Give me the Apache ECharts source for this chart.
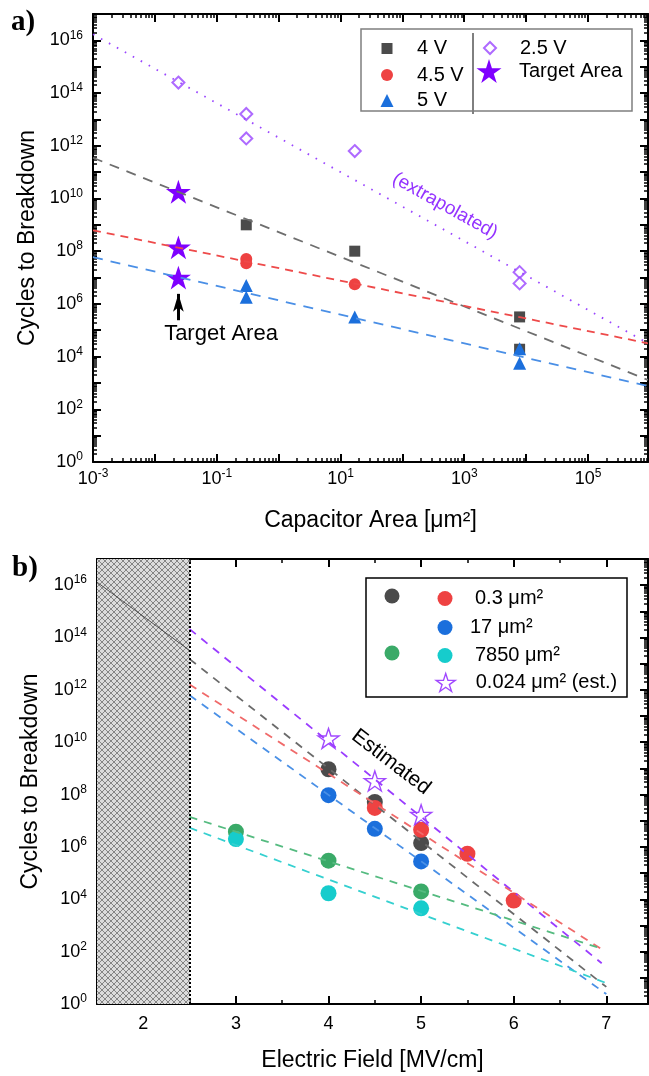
<!DOCTYPE html>
<html><head><meta charset="utf-8">
<script src="https://cdn.jsdelivr.net/npm/echarts@6/dist/echarts.min.js"></script>
<style>html,body{margin:0;padding:0;background:#fff}#c{width:649px;height:1076px}</style>
</head><body><div id="c"></div>
<script>
// ================= DATA : panel a (Cycles vs capacitor area) =================
const area4V = [0.3, 17, 7850, 7850];
const cyc4V = [1.0e9, 1.0e8, 3.2e5, 1.9e4];
const area45V = [0.3, 0.3, 17];
const cyc45V = [5.0e7, 3.5e7, 5.5e6];
const area5V = [0.3, 0.3, 17, 7850, 7850];
const cyc5V = [5.0e6, 1.8e6, 3.2e5, 2.0e4, 5.6e3];
const area25V = [0.024, 0.3, 0.3, 17, 7850, 7850];
const cyc25V = [2.5e14, 1.6e13, 1.9e12, 6.3e11, 1.6e7, 6.0e6];
const areaTarget = [0.024, 0.024, 0.024];
const cycTarget = [1.8e10, 1.4e8, 1.0e7];
// fit lines (end points)
const fitAreaA = [1e-3, 9.3e5];
const fit4V = [3.5e11, 1.3e3];
const fit45V = [6.2e8, 3.2e4];
const fit5V = [5.9e7, 7.6e2];
const fit25V = [1.7e16, 3.2e4];
// target-area arrow (x, y from -> to)
const arrowArea = 0.024;
const arrowCyc = [2.4e5, 2.4e6];
const xTicksA = [-3, -1, 1, 3, 5];           // labelled exponents
const yTicks = [0, 2, 4, 6, 8, 10, 12, 14, 16]; // labelled exponents

// ================= DATA : panel b (Cycles vs electric field) =================
const fieldGray = [4, 4.5, 5];
const cycGray = [9.3e8, 5.2e7, 1.4e6];
const fieldRed = [4.5, 5, 5.5, 6];
const cycRed = [3.1e7, 4.5e6, 5.5e5, 8.9e3];
const fieldBlue = [4, 4.5, 5];
const cycBlue = [9.5e7, 4.9e6, 2.8e5];
const fieldGreen = [3, 4, 5];
const cycGreen = [3.8e6, 3.0e5, 2.0e4];
const fieldCyan = [3, 4, 5];
const cycCyan = [2.0e6, 1.7e4, 4.5e3];
const fieldStar = [4, 4.5, 5];
const cycStar = [1.4e10, 3.3e8, 1.7e7];
// fit lines (x0,x1) and (y0,y1)
const fitFieldPurple = [2.5, 6.95], fitPurple = [2.1e14, 36];
const fitFieldGray = [2.5, 7.0], fitGray = [1.5e13, 4.5];
const fitFieldRed = [2.5, 6.95], fitRed = [1.6e12, 123];
const fitFieldBlue = [2.5, 7.0], fitBlue = [6.2e11, 2.4];
const fitFieldGreen = [2.5, 6.9], fitGreen = [1.4e7, 148];
const fitFieldCyan = [2.5, 7.0], fitCyan = [5.4e6, 6.3];
const hatchField = [1.5, 2.5], hatchLine = [1.3e16, 3.2e13];
const shadeField = [1.5, 2.5];
const xTicksB = [2, 3, 4, 5, 6, 7];

// ================= helpers =================
const L = Math.log10;
const FONT = 'Liberation Sans';
const pts = (xs, ys, lx) => xs.map((x, i) => [lx ? L(x) : x, L(ys[i])]);
function minors(d0, d1, lo, hi) {
  const o = [];
  for (let d = d0; d <= d1; d++) for (let k = 2; k <= 9; k++) {
    const v = d + L(k); if (v > lo && v < hi) o.push(+v.toFixed(5));
  }
  return o;
}
function seq(a, b, s) { const o = []; for (let v = a; v <= b + 1e-9; v += s) o.push(+v.toFixed(5)); return o; }
const supFmt = v => '{b|10}{s|' + Math.round(v) + '}';
const supRich = {
  b: { fontSize: 18, fontFamily: FONT, color: '#000', lineHeight: 22 },
  s: { fontSize: 12, fontFamily: FONT, color: '#000', verticalAlign: 'top', lineHeight: 13 }
};
const AX = { color: '#000', width: 2 };

function axisSet(kind, grid, min, max, major, minor, labelVals, fmt, name, nameGap, labelMargin) {
  const posA = kind === 'x' ? 'bottom' : 'left';
  const posB = kind === 'x' ? 'top' : 'right';
  const base = { type: 'value', gridIndex: grid, min, max, splitLine: { show: false }, silent: true };
  const out = [];
  out.push(Object.assign({}, base, {
    position: posA,
    axisLine: { show: true, onZero: false, lineStyle: AX },
    axisTick: { show: true, inside: true, length: 8, lineStyle: { color: '#000', width: 2 }, customValues: major },
    axisLabel: { show: true, customValues: labelVals, formatter: fmt, rich: supRich, margin: labelMargin,
      fontSize: 18, fontFamily: FONT, color: '#000', lineHeight: 22 },
    name, nameLocation: 'middle', nameGap,
    nameTextStyle: { fontSize: 23, fontFamily: FONT, color: '#000' }
  }));
  out.push(Object.assign({}, base, {
    position: posA,
    axisLine: { show: false, onZero: false },
    axisTick: { show: true, inside: true, length: 4, lineStyle: { color: '#000', width: 1.5 }, customValues: minor },
    axisLabel: { show: false }
  }));
  out.push(Object.assign({}, base, {
    position: posB,
    axisLine: { show: true, onZero: false, lineStyle: AX },
    axisTick: { show: true, inside: true, length: 8, lineStyle: { color: '#000', width: 2 }, customValues: major },
    axisLabel: { show: false }
  }));
  out.push(Object.assign({}, base, {
    position: posB,
    axisLine: { show: false, onZero: false },
    axisTick: { show: true, inside: true, length: 4, lineStyle: { color: '#000', width: 1.5 }, customValues: minor },
    axisLabel: { show: false }
  }));
  return out;
}

const xMaxA = 5.97, xMinA = -3;
const xAxes = [].concat(
  axisSet('x', 0, xMinA, xMaxA, seq(-3, 5, 1), minors(-3, 5, xMinA, xMaxA), xTicksA, supFmt, 'Capacitor Area [\u03BCm\u00B2]', 47, 6),
  axisSet('x', 1, 1.5, 7.45, seq(2, 7, 1), seq(2.5, 7, 0.5).filter(v => v % 1 !== 0), xTicksB, v => String(Math.round(v)), 'Electric Field [MV/cm]', 45, 9)
);
const yAxes = [].concat(
  axisSet('y', 0, 0, 17, seq(0, 17, 1), minors(0, 16, 0, 17), yTicks, supFmt, 'Cycles to Breakdown', 48, 10),
  axisSet('y', 1, 0, 17, seq(0, 17, 1), minors(0, 16, 0, 17), yTicks, supFmt, 'Cycles to Breakdown', 55, 10)
);

// star path
const STAR = 'path://M0,-1L0.2245,-0.309L0.951,-0.309L0.363,0.118L0.588,0.809L0,0.382L-0.588,0.809L-0.363,0.118L-0.951,-0.309L-0.2245,-0.309Z';

// hatch pattern (cross-hatch tile)
const pc = document.createElement('canvas'); pc.width = 6; pc.height = 6;
const pctx = pc.getContext('2d');
pctx.fillStyle = '#dcdcdc'; pctx.fillRect(0, 0, 6, 6);
pctx.fillStyle = '#858585';
for (let i = 0; i < 6; i++) { pctx.fillRect(i, i, 1, 1); pctx.fillRect(5 - i, i, 1, 1); }

const C = {
  gray: '#4b4b4b', red: '#ee4242', blue: '#1b6fdc', purple: '#9a45ff', star: '#7f00ff',
  green: '#3aaa68', cyan: '#16cccc'
};

function sc(name, data, gi, symbol, size, color, extra) {
  return Object.assign({ type: 'scatter', name, data, xAxisIndex: gi * 4, yAxisIndex: gi * 4,
    symbol, symbolSize: size, itemStyle: { color, opacity: 1 }, z: 3, silent: true }, extra || {});
}
function ln(name, xs, ys, gi, lx, color, type, width) {
  return { type: 'line', name, data: pts(xs, ys, lx), xAxisIndex: gi * 4, yAxisIndex: gi * 4,
    symbol: 'none', showSymbol: false, silent: true, z: 4,
    lineStyle: { color, type, width: width || 1.6 } };
}

const series = [
  // panel a
  sc('4 V', pts(area4V, cyc4V, true), 0, 'rect', 11, C.gray),
  sc('4.5 V', pts(area45V, cyc45V, true), 0, 'circle', 12, C.red),
  sc('5 V', pts(area5V, cyc5V, true), 0, 'triangle', 13, C.blue),
  sc('2.5 V', pts(area25V, cyc25V, true), 0, 'emptyDiamond', 12, C.purple, { itemStyle: { color: C.purple, borderWidth: 1.2 } }),
  sc('Target Area', pts(areaTarget, cycTarget, true), 0, STAR, 25, C.star, {
    symbolKeepAspect: true,
    markLine: { silent: true, symbol: ['none', 'arrow'], symbolSize: [8, 18], label: { show: false },
      lineStyle: { color: '#000', width: 3, type: 'solid' },
      data: [[{ coord: [L(arrowArea), L(arrowCyc[0])] }, { coord: [L(arrowArea), L(arrowCyc[1])] }]] }
  }),
  ln('fit 4 V', fitAreaA, fit4V, 0, true, '#6e6e6e', [10, 8], 1.8),
  ln('fit 4.5 V', fitAreaA, fit45V, 0, true, '#ee4a4a', [8, 6], 1.8),
  ln('fit 5 V', fitAreaA, fit5V, 0, true, '#4a8fe6', [10, 8], 1.8),
  ln('fit 2.5 V', fitAreaA, fit25V, 0, true, '#9a45ff', [1.6, 7.5], 1.8),
  // panel b
  ln('hatch', hatchField, hatchLine, 1, false, '#333', 'solid', 0.8),
  sc('0.3 \u03BCm\u00B2 A', pts(fieldGray, cycGray, false), 1, 'circle', 16, C.gray),
  sc('0.3 \u03BCm\u00B2', pts(fieldRed, cycRed, false), 1, 'circle', 16, C.red),
  sc('17 \u03BCm\u00B2', pts(fieldBlue, cycBlue, false), 1, 'circle', 16, C.blue),
  sc('7850 \u03BCm\u00B2 A', pts(fieldGreen, cycGreen, false), 1, 'circle', 16, C.green),
  sc('7850 \u03BCm\u00B2', pts(fieldCyan, cycCyan, false), 1, 'circle', 16, C.cyan),
  sc('0.024 \u03BCm\u00B2 (est.)', pts(fieldStar, cycStar, false), 1, STAR, 21, '#ffffff', {
    symbolKeepAspect: true, itemStyle: { color: '#ffffff', borderColor: '#8a1cff', borderWidth: 1.4 } }),
  ln('fit purple', fitFieldPurple, fitPurple, 1, false, '#9a3cff', [8, 7], 1.8),
  ln('fit gray', fitFieldGray, fitGray, 1, false, '#6a6a6a', [8, 7], 1.8),
  ln('fit red', fitFieldRed, fitRed, 1, false, '#f06a6a', [8, 7], 1.8),
  ln('fit blue', fitFieldBlue, fitBlue, 1, false, '#4a90e6', [8, 7], 1.8),
  ln('fit green', fitFieldGreen, fitGreen, 1, false, '#55bb80', [8, 7], 1.8),
  ln('fit cyan', fitFieldCyan, fitCyan, 1, false, '#35d0d0', [8, 7], 1.8)
];
// shaded region + dotted boundary on hatch series
series[9].z = 2;
series[9].markArea = { silent: true, itemStyle: { color: { image: pc, repeat: 'repeat' } },
  data: [[{ xAxis: shadeField[0], yAxis: 0 }, { xAxis: shadeField[1], yAxis: 17 }]] };
series[9].markLine = { silent: true, symbol: ['none', 'none'], label: { show: false },
  lineStyle: { color: '#000', type: [2, 2], width: 2 }, data: [{ xAxis: shadeField[1] }] };

// legends
function lg(name, cx, cy, s, textLeft, label, itemStyle) {
  const w = Math.max(0, textLeft - (cx + s / 2 + 5));
  const o = {
    data: [name], orient: 'vertical', left: cx - s / 2, top: cy - s / 2, padding: 0,
    itemWidth: s, itemHeight: s, selectedMode: false,
    formatter: () => label === '' ? '' : '{p|}' + label,
    textStyle: { fontSize: 20, fontFamily: FONT, color: '#000', lineHeight: s,
      rich: { p: { width: w, lineHeight: s } } }
  };
  if (itemStyle) o.itemStyle = itemStyle;
  return o;
}
const legends = [
  lg('4 V', 387, 44, 11, 417, '4 V'),
  lg('4.5 V', 387, 71, 12, 417, '4.5 V'),
  lg('5 V', 387, 97, 13, 417, '5 V'),
  lg('2.5 V', 489, 44, 12, 519, '2.5 V'),
  lg('Target Area', 489, 71, 25, 519, 'Target Area'),
  lg('0.3 \u03BCm\u00B2 A', 392, 596, 15, 420, ''),
  lg('0.3 \u03BCm\u00B2', 445, 596, 15, 475, '0.3 \u03BCm\u00B2'),
  lg('17 \u03BCm\u00B2', 445, 625, 15, 470, '17 \u03BCm\u00B2'),
  lg('7850 \u03BCm\u00B2 A', 392, 653, 15, 420, ''),
  lg('7850 \u03BCm\u00B2', 445, 653, 15, 475, '7850 \u03BCm\u00B2'),
  lg('0.024 \u03BCm\u00B2 (est.)', 445, 682, 19, 475, '0.024 \u03BCm\u00B2 (est.)',
    { color: '#ffffff', borderColor: '#8a1cff', borderWidth: 1.4 })
];

const graphic = [
  { type: 'text', x: 11, y: 8, style: { text: 'a)', font: 'bold 29px "Liberation Serif"', fill: '#000' } },
  { type: 'text', x: 12, y: 554, style: { text: 'b)', font: 'bold 29px "Liberation Serif"', fill: '#000' } },
  { type: 'rect', shape: { x: 361, y: 29, width: 271, height: 82 }, style: { fill: 'none', stroke: '#7f7f7f', lineWidth: 1.5 }, z: 1 },
  { type: 'line', shape: { x1: 473, y1: 33, x2: 473, y2: 114 }, style: { stroke: '#000', lineWidth: 1 } },
  { type: 'rect', shape: { x: 366, y: 578, width: 261, height: 119 }, style: { fill: 'none', stroke: '#000', lineWidth: 1.5 }, z: 1 },
  { type: 'text', x: 221, y: 334, style: { text: 'Target Area', font: '22px "Liberation Sans"', fill: '#000', align: 'center', verticalAlign: 'middle' } },
  { type: 'text', x: 445, y: 206, rotation: -0.51, style: { text: '(extrapolated)', font: '19px "Liberation Sans"', fill: '#9433ff', align: 'center', verticalAlign: 'middle' } },
  { type: 'text', x: 391, y: 762, rotation: -0.655, style: { text: 'Estimated', font: '21px "Liberation Sans"', fill: '#000', align: 'center', verticalAlign: 'middle' } }
];

const chart = echarts.init(document.getElementById('c'), null, { renderer: 'canvas' });
chart.setOption({
  animation: false,
  backgroundColor: '#fff',
  grid: [
    { left: 93, top: 14, width: 555, height: 448, containLabel: false },
    { left: 97, top: 559, width: 551, height: 445, containLabel: false }
  ],
  xAxis: xAxes,
  yAxis: yAxes,
  legend: legends,
  series,
  graphic
});
</script></body></html>
